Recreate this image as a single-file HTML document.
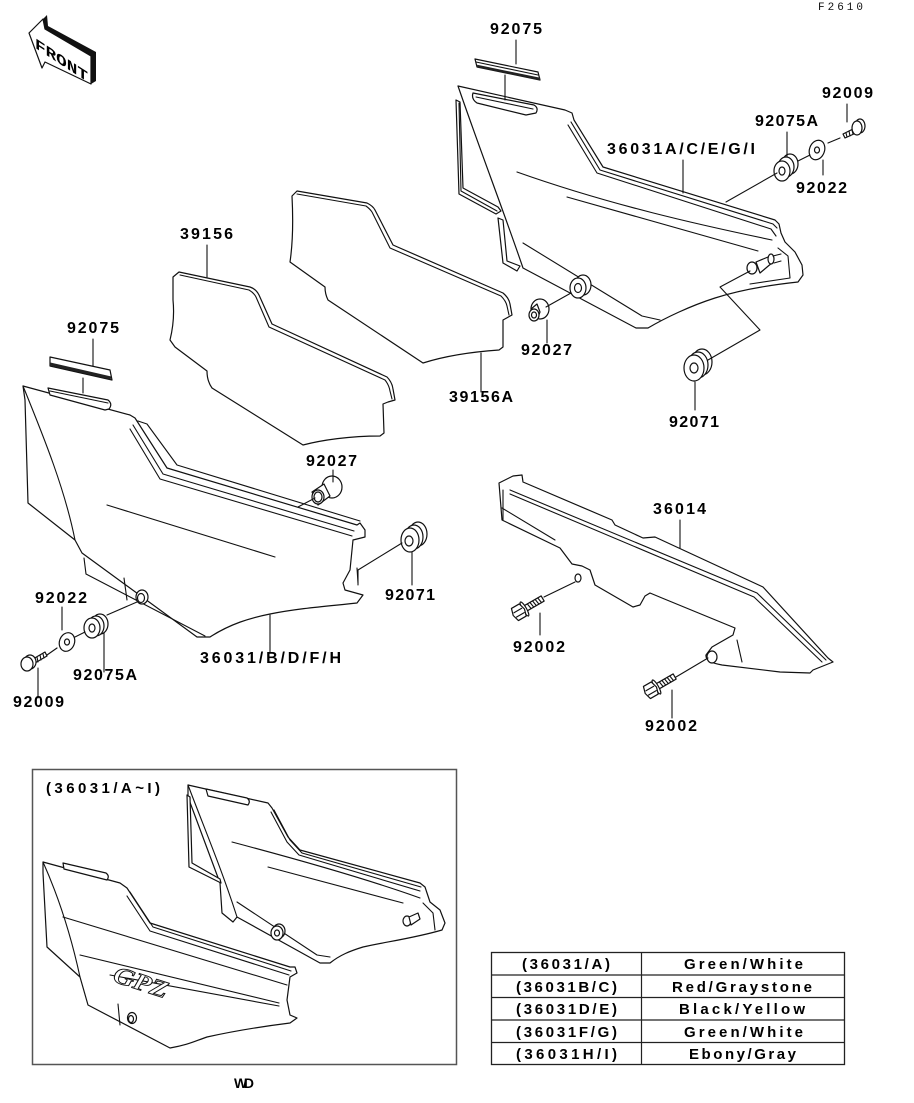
<!DOCTYPE html>
<html><head><meta charset="utf-8"><style>
html,body{margin:0;padding:0;background:#fff;}
svg{display:block}
.l{fill:none;stroke:#111;stroke-width:1.1;stroke-linejoin:round;stroke-linecap:round}
.s{fill:#fff;stroke:#111;stroke-width:1.2;stroke-linejoin:round}
.t{font-family:"Liberation Sans",sans-serif;font-weight:bold;font-size:16px;fill:#000}
.tb{font-family:"Liberation Sans",sans-serif;font-weight:bold;font-size:15px;fill:#000}
</style></head><body>
<svg width="914" height="1103" viewBox="0 0 914 1103" xmlns="http://www.w3.org/2000/svg">
<rect width="914" height="1103" fill="#fff"/>

<!-- FRONT arrow -->
<polygon points="43,19 47,15 48,26 96,52 96,81 91,84 91,57 45,29" fill="#111"/>
<polygon class="s" points="29,33 43,19 45,29 91,56 91,84 45,62 42,68"/>
<text transform="skewY(33)" x="35" y="25" font-family="Liberation Mono,monospace" font-weight="bold" font-size="15" textLength="53" lengthAdjust="spacingAndGlyphs" fill="#000">FRONT</text>

<text x="818" y="10" font-family="Liberation Mono,monospace" font-size="11" textLength="45" lengthAdjust="spacing" fill="#111">F2610</text>

<!-- 39156A back panel -->
<path class="s" d="M292,196 L297,191 L367,203 Q373,206 375,210 L393,245 L503,293 Q509,298 510,304 L512,315 L503,320 L503,347 L499,350 C470,352 445,356 423,363 L328,300 Q325,294 325,287 L290,262 Q294,235 292,196 Z"/>
<path class="l" d="M297,194 L366,206 Q370,209 372,212 L390,248 L501,296 Q506,301 507,306 L509,315"/>

<!-- 39156 panel -->
<path class="s" d="M173,277 L179,272 L250,287 Q256,289 259,295 L272,324 L387,377 Q392,382 393,389 L395,400 L388,402 L383,404 L384,433 L380,436 C350,436 322,440 303,445 L212,388 Q207,381 207,371 L175,347 L170,340 Q175,320 173,300 Z"/>
<path class="l" d="M180,275 L249,290 Q254,293 256,297 L269,327 L385,380 Q389,385 390,391 L392,399"/>
<path class="l" d="M207,245 L207,277"/>

<!-- top-right panel 36031A/C/E/G/I -->
<path class="s" d="M458,86 L565,110 L572,113 L574,120 L603,167 L775,220 L779,224 L781,233 L785,242 L795,252 L802,265 L803,275 L798,282 C770,285 740,290 715,298 C690,306 665,318 648,328 L636,328 L523,268 C505,215 480,150 458,86 Z"/>
<path class="l" d="M571,122 L600,170 L773,224 L777,228"/>
<path class="l" d="M568,125 L597,173 L771,229 L776,236"/>
<path class="l" d="M517,172 C610,205 700,225 772,240"/>
<path class="l" d="M567,197 L758,251"/>
<path class="l" d="M523,243 L642,316 L660,320"/>
<path class="l" d="M778,248 L788,256 L790,278 L750,284"/>
<path class="s" d="M473,93 L534,105 Q539,108 536,113 L526,115 L477,103 Q471,99 473,93 Z"/>
<path class="l" d="M476,97 L533,109"/>
<!-- left bracket -->
<path class="s" d="M456,100 L460,102 L463,188 L498,207 L501,211 L496,214 L459,194 Z"/>
<path class="l" d="M459,103 L461,191 L497,211"/>
<path class="s" d="M498,218 L503,220 L507,261 L520,266 L517,271 L503,263 Z"/>
<!-- pin -->
<polygon class="s" points="756,262 768,257 773,262 760,273"/>
<ellipse class="s" cx="752" cy="268" rx="5" ry="6"/>
<ellipse class="s" cx="771" cy="259" rx="3" ry="5"/>
<path class="l" d="M773,256 L781,254 M774,263 L781,261"/>
<!-- washer on panel -->
<ellipse class="s" cx="583" cy="285" rx="8" ry="10"/>
<ellipse class="s" cx="578" cy="288" rx="8" ry="10"/>
<ellipse class="s" cx="578" cy="288" rx="3.5" ry="4.5"/>

<!-- top strip 92075 -->
<path class="s" d="M475,59 L538,72 L540,80 L477,67 Z"/>
<path d="M477,66 L540,79" stroke="#222" stroke-width="2.5" fill="none"/>
<path class="l" d="M476,62 L538,75"/>
<path class="l" d="M516,40 L516,64 M505,75 L505,100"/>

<!-- small parts top right -->
<ellipse class="s" cx="790" cy="164" rx="8" ry="10"/>
<ellipse class="s" cx="786" cy="167" rx="8" ry="10"/>
<ellipse class="s" cx="782" cy="171" rx="8" ry="10"/>
<ellipse class="s" cx="782" cy="171" rx="3" ry="4"/>
<ellipse class="s" cx="817" cy="150" rx="7.5" ry="10" transform="rotate(20 817 150)"/>
<ellipse class="s" cx="817" cy="150" rx="2.5" ry="3"/>
<polygon class="s" points="843,134 853,129 856,133 845,138"/>
<path class="l" d="M846,133 L847,137 M849,131 L850,136 M852,130 L853,134"/>
<ellipse class="s" cx="860" cy="126" rx="5" ry="7"/>
<ellipse class="s" cx="857" cy="128" rx="5" ry="7"/>
<path class="l" d="M847,104 L847,122 M787,132 L787,157 M823,160 L823,175 M683,160 L683,193"/>
<path class="l" d="M726,202 L777,173 M798,161 L810,155 M828,143 L840,138"/>

<!-- 92027 right grommet -->
<ellipse class="s" cx="540" cy="309" rx="9" ry="10"/>
<path class="s" d="M531,309 L537,304 L540,312 L537,320 Z"/>
<ellipse class="s" cx="534" cy="315" rx="5" ry="6"/>
<ellipse class="s" cx="534" cy="315" rx="2.5" ry="3"/>
<path class="l" d="M546,307 L571,293 M547,320 L547,343"/>

<!-- 92071 right grommet -->
<ellipse class="s" cx="702" cy="362" rx="10" ry="13"/>
<ellipse class="s" cx="698" cy="365" rx="10" ry="13"/>
<ellipse class="s" cx="694" cy="368" rx="10" ry="13"/>
<ellipse class="s" cx="694" cy="368" rx="4" ry="5"/>
<path class="l" d="M708,360 L760,330 L720,287 L750,271 M695,382 L695,410"/>
<path class="l" d="M481,353 L481,392"/>

<!-- left panel 36031/B/D/F/H -->
<path class="s" d="M23,386 L130,415 L135,418 L167,468 L357,525 L360,523 L365,530 L365,537 L353,540 L350,570 L343,583 L345,590 L363,595 L357,603 C330,606 300,608 270,614 C250,618 230,624 210,637 L197,637 L82,553 L75,540 L28,503 L25,400 Z"/>
<path class="l" d="M23,386 C45,440 65,490 75,540"/>
<path class="l" d="M138,421 L147,424 L177,465 L360,521"/>
<path class="l" d="M133,425 L163,474 L354,531"/>
<path class="l" d="M130,429 L160,479 L352,536"/>
<path class="l" d="M107,505 L275,557"/>
<path class="l" d="M84,558 L86,574 L205,636"/>
<path class="l" d="M124,578 L127,600"/>
<path class="l" d="M357,568 L358,583"/>
<path class="s" d="M48,388 L108,400 Q113,404 109,409 L105,410 L50,395 Z"/>
<path class="l" d="M50,391 L108,403"/>
<ellipse class="s" cx="142" cy="597" rx="6" ry="7"/>
<ellipse class="s" cx="141" cy="598" rx="3.5" ry="4.5"/>

<!-- left strip 92075 -->
<path class="s" d="M50,357 L110,370 L112,380 L50,366 Z"/>
<path d="M50,364 L111,378" stroke="#222" stroke-width="3" fill="none"/>
<path class="l" d="M93,339 L93,366 M83,378 L83,393"/>

<!-- left small parts -->
<ellipse class="s" cx="100" cy="624" rx="8" ry="10"/>
<ellipse class="s" cx="96" cy="626" rx="8" ry="10"/>
<ellipse class="s" cx="92" cy="628" rx="8" ry="10"/>
<ellipse class="s" cx="92" cy="628" rx="3" ry="4"/>
<ellipse class="s" cx="67" cy="642" rx="7.5" ry="9.5" transform="rotate(20 67 642)"/>
<ellipse class="s" cx="67" cy="642" rx="2.5" ry="3"/>
<polygon class="s" points="33,659 45,652 47,656 35,663"/>
<path class="l" d="M37,657 L38,662 M40,655 L41,660 M43,654 L44,658"/>
<ellipse class="s" cx="30" cy="662" rx="6" ry="7"/>
<ellipse class="s" cx="27" cy="664" rx="6" ry="7"/>
<path class="l" d="M107,615 L137,602 M75,637 L85,632 M47,655 L57,648"/>
<path class="l" d="M62,607 L62,630 M104,633 L104,672 M38,668 L38,698 M270,615 L270,653"/>

<!-- 92027 left grommet -->
<ellipse class="s" cx="332" cy="487" rx="10" ry="11"/>
<path class="s" d="M312,492 L324,484 L330,496 L318,505 Z"/>
<ellipse class="s" cx="318" cy="497" rx="6" ry="7"/>
<ellipse class="s" cx="318" cy="497" rx="4" ry="5"/>
<path class="l" d="M298,507 L315,498 M333,470 L333,482"/>

<!-- 92071 left grommet -->
<ellipse class="s" cx="418" cy="534" rx="9" ry="12"/>
<ellipse class="s" cx="414" cy="537" rx="9" ry="12"/>
<ellipse class="s" cx="410" cy="540" rx="9" ry="12"/>
<ellipse class="s" cx="409" cy="541" rx="4" ry="5"/>
<path class="l" d="M358,570 L402,543 M358,570 L358,585 M412,552 L412,585"/>

<!-- chain guard 36014 -->
<path class="s" d="M499,483 L513,476 L522,475 L523,482 L612,520 L615,525 L643,538 L655,537 L763,587 L828,658 L833,662 L813,670 L810,673 L780,672 L722,665 Q705,662 706,655 L712,647 L733,635 L735,628 L662,598 L650,593 L645,596 L640,605 L633,607 L595,585 L590,570 L582,566 L572,564 L560,548 L502,520 Z"/>
<path class="l" d="M510,490 L757,593 L826,660"/>
<path class="l" d="M510,494 L754,597 L822,662"/>
<path class="l" d="M503,490 L503,520 M502,508 L555,540"/>
<path class="l" d="M737,640 L742,662"/>
<ellipse class="s" cx="578" cy="578" rx="3" ry="4"/>
<ellipse class="s" cx="712" cy="657" rx="5" ry="6"/>
<path class="l" d="M680,520 L680,548 M540,613 L540,635 M672,690 L672,718"/>
<path class="l" d="M544,597 L575,582 M676,677 L708,658"/>
<!-- bolt 1 -->
<g transform="translate(521,611) rotate(-30)">
<rect class="s" x="5" y="-3" width="20" height="6"/>
<path class="l" d="M9,-3 L10,3 M12,-3 L13,3 M15,-3 L16,3 M18,-3 L19,3 M21,-3 L22,3"/>
<ellipse class="s" cx="4" cy="0" rx="2" ry="8"/>
<polygon class="s" points="-7,-7 2,-7 4,0 2,7 -7,7 -9,0"/>
<path class="l" d="M-7,-2 L2,-2 M-7,3 L2,3"/>
</g>
<!-- bolt 2 -->
<g transform="translate(653,689) rotate(-30)">
<rect class="s" x="5" y="-3" width="20" height="6"/>
<path class="l" d="M9,-3 L10,3 M12,-3 L13,3 M15,-3 L16,3 M18,-3 L19,3 M21,-3 L22,3"/>
<ellipse class="s" cx="4" cy="0" rx="2" ry="8"/>
<polygon class="s" points="-7,-7 2,-7 4,0 2,7 -7,7 -9,0"/>
<path class="l" d="M-7,-2 L2,-2 M-7,3 L2,3"/>
</g>

<!-- labels -->
<text class="t" x="490" y="34" textLength="52" lengthAdjust="spacing">92075</text>
<text class="t" x="822" y="98" textLength="51" lengthAdjust="spacing">92009</text>
<text class="t" x="755" y="126" textLength="63" lengthAdjust="spacing">92075A</text>
<text class="t" x="607" y="154" textLength="148" lengthAdjust="spacing">36031A/C/E/G/I</text>
<text class="t" x="796" y="193" textLength="51" lengthAdjust="spacing">92022</text>
<text class="t" x="521" y="355" textLength="51" lengthAdjust="spacing">92027</text>
<text class="t" x="449" y="402" textLength="64" lengthAdjust="spacing">39156A</text>
<text class="t" x="669" y="427" textLength="50" lengthAdjust="spacing">92071</text>
<text class="t" x="180" y="239" textLength="53" lengthAdjust="spacing">39156</text>
<text class="t" x="67" y="333" textLength="52" lengthAdjust="spacing">92075</text>
<text class="t" x="306" y="466" textLength="51" lengthAdjust="spacing">92027</text>
<text class="t" x="385" y="600" textLength="50" lengthAdjust="spacing">92071</text>
<text class="t" x="35" y="603" textLength="52" lengthAdjust="spacing">92022</text>
<text class="t" x="200" y="663" textLength="141" lengthAdjust="spacing">36031/B/D/F/H</text>
<text class="t" x="73" y="680" textLength="64" lengthAdjust="spacing">92075A</text>
<text class="t" x="13" y="707" textLength="51" lengthAdjust="spacing">92009</text>
<text class="t" x="653" y="514" textLength="53" lengthAdjust="spacing">36014</text>
<text class="t" x="513" y="652" textLength="52" lengthAdjust="spacing">92002</text>
<text class="t" x="645" y="731" textLength="52" lengthAdjust="spacing">92002</text>

<!-- inset box -->
<rect x="32.5" y="769.5" width="424" height="295" fill="none" stroke="#555" stroke-width="1.5"/>
<text class="tb" x="46" y="793" textLength="114" lengthAdjust="spacing">(36031/A~I)</text>
<!-- inset right panel -->
<path class="s" d="M188,785 L268,803 L272,808 L288,837 L300,850 L420,883 L425,887 L427,893 L430,902 L440,910 L445,923 L442,930 C415,938 385,942 363,947 C350,951 340,955 330,963 L320,963 L237,917 L233,922 L222,913 L220,883 L188,797 Z"/>
<path class="l" d="M188,785 C205,830 222,870 237,917"/>
<path class="l" d="M274,810 L290,840 L302,853 L421,887 M271,812 L287,842 L299,855 L420,891"/>
<path class="l" d="M232,842 C300,860 370,880 420,898"/>
<path class="l" d="M268,867 L403,903"/>
<path class="l" d="M237,902 L317,955 L330,957"/>
<path class="l" d="M423,903 L433,913 L435,930"/>
<path class="s" d="M206,789 L247,798 Q251,801 248,805 L208,796 Z"/>
<path class="s" d="M187,795 L190,797 L192,863 L220,879 L221,883 L189,867 Z"/>
<ellipse class="s" cx="407" cy="921" rx="4" ry="5"/>
<path class="s" d="M409,917 L418,913 L420,919 L411,925 Z"/>
<ellipse class="s" cx="279" cy="931" rx="6" ry="7"/>
<ellipse class="s" cx="277" cy="933" rx="6" ry="7"/>
<ellipse class="s" cx="277" cy="933" rx="2.5" ry="3"/>
<!-- inset left panel -->
<path class="s" d="M43,862 L120,883 L127,888 L150,923 L290,967 L295,967 L297,973 L290,977 L287,1000 L290,1015 L297,1018 L290,1023 C250,1028 225,1033 207,1037 C195,1041 188,1045 170,1048 L88,1005 L80,977 L47,947 L43,873 Z"/>
<path class="l" d="M43,862 C60,900 72,940 80,977"/>
<path class="l" d="M130,892 L153,927 L291,971 M127,896 L150,931 L289,975"/>
<path class="l" d="M63,917 L287,985"/>
<path class="l" d="M80,955 L279,1003 M110,975 L279,1006"/>
<path class="l" d="M118,1004 L120,1025"/>
<path class="s" d="M63,863 L106,873 Q110,876 107,880 L64,869 Z"/>
<ellipse class="s" cx="132" cy="1018" rx="4.5" ry="5.5"/>
<ellipse class="s" cx="131" cy="1019" rx="2.5" ry="3.5"/>
<text x="112" y="990" transform="rotate(18 140 985)" font-family="Liberation Serif,serif" font-style="italic" font-weight="bold" font-size="24" fill="#fff" stroke="#111" stroke-width="0.9" textLength="56" lengthAdjust="spacingAndGlyphs">GPZ</text>

<text x="234" y="1088" font-family="Liberation Sans,sans-serif" font-weight="bold" font-size="14" textLength="20" lengthAdjust="spacing" fill="#000">WD</text>

<!-- table -->
<rect x="491.5" y="952.5" width="353" height="112" fill="none" stroke="#222" stroke-width="1.3"/>
<path d="M641.5,952.5 V1064.5 M491.5,975 H844.5 M491.5,997.5 H844.5 M491.5,1020 H844.5 M491.5,1042.5 H844.5" stroke="#222" stroke-width="1.2" fill="none"/>
<text class="tb" x="522" y="969" textLength="88" lengthAdjust="spacing">(36031/A)</text>
<text class="tb" x="684" y="969" textLength="119" lengthAdjust="spacing">Green/White</text>
<text class="tb" x="516" y="992" textLength="101" lengthAdjust="spacing">(36031B/C)</text>
<text class="tb" x="672" y="992" textLength="140" lengthAdjust="spacing">Red/Graystone</text>
<text class="tb" x="516" y="1014" textLength="101" lengthAdjust="spacing">(36031D/E)</text>
<text class="tb" x="679" y="1014" textLength="126" lengthAdjust="spacing">Black/Yellow</text>
<text class="tb" x="516" y="1037" textLength="101" lengthAdjust="spacing">(36031F/G)</text>
<text class="tb" x="684" y="1037" textLength="119" lengthAdjust="spacing">Green/White</text>
<text class="tb" x="516" y="1059" textLength="101" lengthAdjust="spacing">(36031H/I)</text>
<text class="tb" x="689" y="1059" textLength="107" lengthAdjust="spacing">Ebony/Gray</text>
</svg>
</body></html>
